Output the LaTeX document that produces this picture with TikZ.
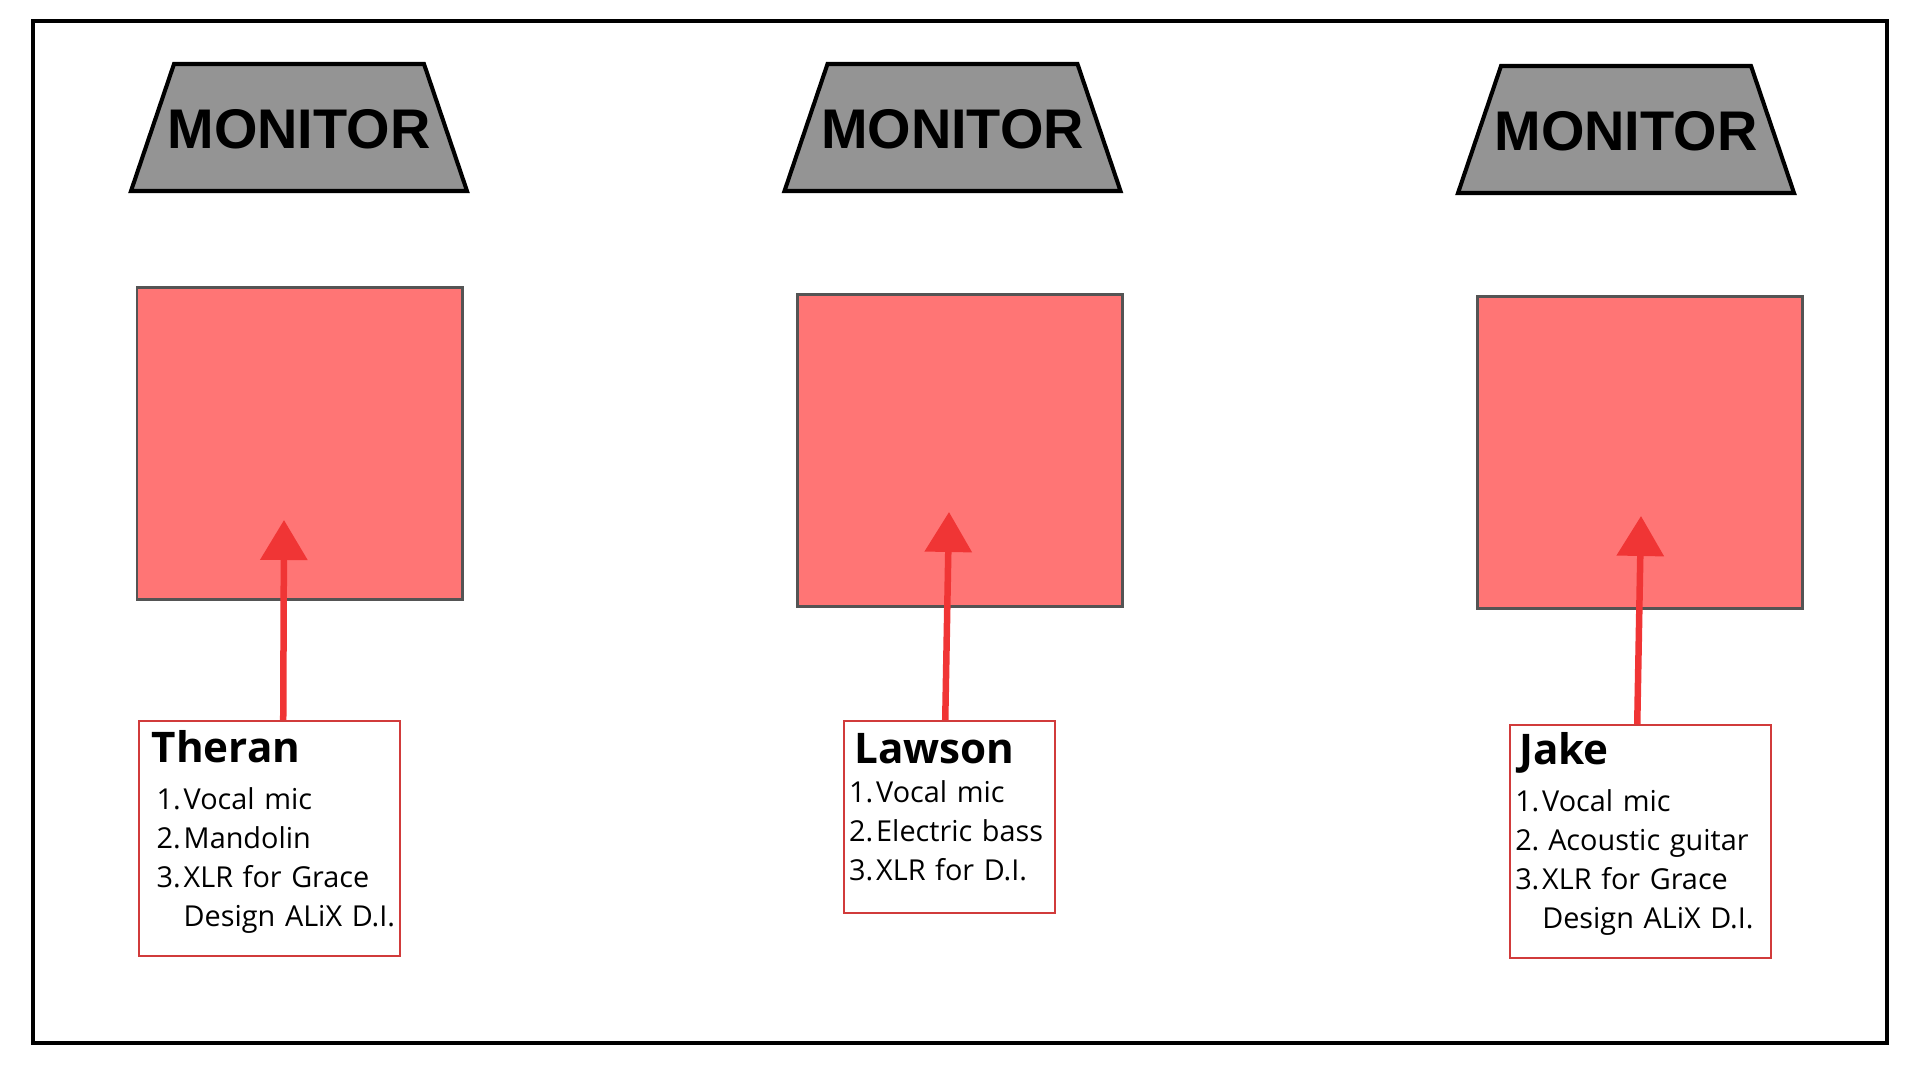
\documentclass[tikz,border=0pt]{standalone}
\usepackage{fontspec}
\setmainfont{Open Sans}
\newfontfamily\monfont{Liberation Sans}
\usetikzlibrary{arrows.meta}

\newcommand{\gearitem}[2]{\mbox{\makebox[0.27cm][l]{#1}#2}}
\newcommand{\player}[1]{{\fontsize{12}{11.1}\selectfont\bfseries #1}}

\begin{document}
\begin{tikzpicture}[>=stealth, every node/.style={align=center}]
  \colorlet{monbg}{black!42}
  \colorlet{padbg}{red!54} \colorlet{padborder}{black!67}
  \colorlet{arrowred}{red!78!white!94!black}
  \colorlet{tagborder}{red!72!white!82!black}
  \tikzset{
    monbox/.style={draw=black, fill=monbg, line width=1.15pt, line join=miter},
    montext/.style={inner sep=0pt, font=\monfont\bfseries\fontsize{15.9}{18}\selectfont},
    pad/.style={rectangle, draw=padborder, fill=padbg, line width=0.85pt},
    tag/.style={rectangle, draw=tagborder, line width=0.7pt, anchor=north west,
      align=left, inner ysep=0pt, font=\fontsize{8.2}{11.1}\selectfont},
    feed/.style={-{Triangle[width=0.46cm, length=0.40cm]}, draw=arrowred, line width=1.85pt}
  }
  \useasboundingbox (0,0) rectangle (19.2,10.8);
  \draw[line width=0.9pt] (0.33,10.59) rectangle (18.87,0.37);

  % monitors and players
  \foreach \n/\x/\y in {A/2.99/9.525, B/9.525/9.525, C/16.26/9.505} {
    \draw[monbox] (\x,\y) ++(-1.68,-0.635) -- ++(3.36,0) -- ++(-0.43,1.27) -- ++(-2.50,0) -- cycle;
    \node[montext] (mon\n) at (\x,\y-0.02) {MONITOR};
  }
  \foreach \n/\x/\y in {A/2.995/6.36, B/9.595/6.295, C/16.40/6.275} {
    \node[pad, minimum width=3.25cm, minimum height=3.12cm] (pad\n) at (\x,\y) {};
  }

  % input lists
  \node[tag, text width=2.51cm, inner xsep=0.05cm, minimum height=2.35cm] (tagA) at (1.38,3.60)
    {\noindent\hspace*{0.075cm}\player{Theran}\\[2.3pt]
     \hspace*{0.125cm}\gearitem{1.}{Vocal mic}\\
     \hspace*{0.125cm}\gearitem{2.}{Mandolin}\\
     \hspace*{0.125cm}\gearitem{3.}{XLR for Grace}\\
     \hspace*{0.125cm}\gearitem{}{Design ALiX D.I.}\par\kern0.135cm};
  \node[tag, text width=2.01cm, inner xsep=0.05cm, minimum height=1.92cm] (tagB) at (8.43,3.60)
    {\noindent\hspace*{0.05cm}\player{Lawson}\\
     \gearitem{1.}{Vocal mic}\\
     \gearitem{2.}{Electric bass}\\
     \gearitem{3.}{XLR for D.I.}\par\kern0.21cm};
  \node[tag, text width=2.51cm, inner xsep=0.05cm, minimum height=2.33cm] (tagC) at (15.09,3.56)
    {\noindent\hspace*{0.04cm}\player{Jake}\\[2.3pt]
     \gearitem{1.}{Vocal mic}\\
     \gearitem{2.}{\hspace{0.06cm}Acoustic guitar}\\
     \gearitem{3.}{XLR for Grace}\\
     \gearitem{}{Design ALiX D.I.}\par\kern0.16cm};

  \foreach \n/\x/\y/\s in {A/2.84/5.60/0.135, B/9.49/5.68/-0.045, C/16.41/5.64/-0.035} {
    \coordinate (tip\n) at (\x,\y);
    \draw[feed] ([xshift=\s cm]tag\n.north) -- (tip\n);
  }
\end{tikzpicture}
\end{document}
